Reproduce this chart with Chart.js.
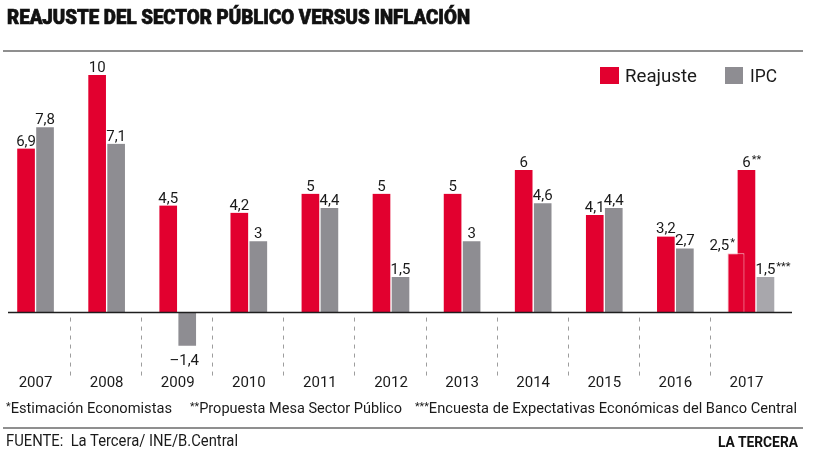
<!DOCTYPE html>
<html>
<head>
<meta charset="utf-8">
<script src="https://cdn.jsdelivr.net/npm/chart.js@4.4.1/dist/chart.umd.min.js"></script>
<style>
html,body{margin:0;padding:0;background:#fff;}
#wrap{position:relative;width:820px;height:454px;overflow:hidden;font-family:Roboto,"Liberation Sans",sans-serif;color:#1a1a1a;}
#c{position:absolute;left:0;top:0;}
.t{position:absolute;white-space:nowrap;transform-origin:0 0;}
.rule{position:absolute;left:3px;width:800px;height:2px;background:#8f8f8f;}
.box{position:absolute;width:19px;height:17px;}
.ast{font-size:11px;position:relative;top:-3px;}
</style>
</head>
<body>
<div id="wrap">
  <canvas id="c" width="820" height="454"></canvas>
  <div class="t" id="title" data-w="463" style="left:7px;top:5px;font-size:20px;line-height:24px;font-weight:900;color:#111;-webkit-text-stroke:0.7px #111;">REAJUSTE DEL SECTOR PÚBLICO VERSUS INFLACIÓN</div>
  <div class="rule" style="top:50px;"></div>
  <div class="box" style="left:600px;top:67px;background:#e2002f;"></div>
  <div class="t" data-w="72" style="left:625px;top:66px;font-size:19px;line-height:19px;">Reajuste</div>
  <div class="box" style="left:725px;top:67px;width:18px;background:#8e8d92;"></div>
  <div class="t" data-w="27" style="left:750px;top:66px;font-size:19px;line-height:19px;">IPC</div>
  <div class="t" data-w="166" style="left:6px;top:399px;font-size:15px;line-height:18px;"><span class="ast">*</span>Estimación Economistas</div>
  <div class="t" data-w="212" style="left:190px;top:399px;font-size:15px;line-height:18px;"><span class="ast">**</span>Propuesta Mesa Sector Público</div>
  <div class="t" data-w="382" style="left:415px;top:399px;font-size:15px;line-height:18px;"><span class="ast">***</span>Encuesta de Expectativas Económicas del Banco Central</div>
  <div class="rule" style="top:427px;"></div>
  <div class="t" data-w="232" style="left:6px;top:432px;font-size:16px;line-height:18px;">FUENTE:&nbsp; La Tercera/ INE/B.Central</div>
  <div class="t" data-w="80" style="left:718px;top:433px;font-size:15px;line-height:18px;font-weight:700;color:#111;">LA TERCERA</div>
</div>
<script>
// ---- data ----
const years = ['2007','2008','2009','2010','2011','2012','2013','2014','2015','2016','2017'];
const reajuste = [6.9, 10, 4.5, 4.2, 5, 5, 5, 6, 4.1, 3.2, 6];
const ipc = [7.8, 7.1, -1.4, 3, 4.4, 1.5, 3, 4.6, 4.4, 2.7, 1.5];
const reajusteEstimado = [null, null, null, null, null, null, null, null, null, null, 2.5];
const notasEstimado = ['', '', '', '', '', '', '', '', '', '', '*'];
const notasReajuste = ['', '', '', '', '', '', '', '', '', '', '**'];
const notasIpc = ['', '', '', '', '', '', '', '', '', '', '***'];

// fit html texts horizontally to the reference widths
document.querySelectorAll('[data-w]').forEach(el => {
  const w = el.getBoundingClientRect().width;
  const target = +el.dataset.w;
  if (w > 0) el.style.transform = 'scaleX(' + (target / w).toFixed(4) + ')';
});

const RED = '#e2002f', GRAY = '#8e8d92', GRAY_LIGHT = '#a8a7ac';

function fmt(v) {
  const s = String(Math.abs(v)).replace('.', ',');
  return v < 0 ? '–' + s : s;
}

const overlay = {
  id: 'overlay',
  afterDatasetsDraw(chart) {
    const { ctx, scales: { x, y } } = chart;
    const y0 = y.getPixelForValue(0);
    ctx.save();
    // dashed separators
    ctx.strokeStyle = '#9d9d9d';
    ctx.lineWidth = 1;
    ctx.setLineDash([4, 5]);
    for (let i = 0; i < years.length - 1; i++) {
      const xm = Math.round((x.getPixelForValue(i) + x.getPixelForValue(i + 1)) / 2) - 0.5;
      ctx.beginPath();
      ctx.moveTo(xm, y0 + 5);
      ctx.lineTo(xm, y0 + 63);
      ctx.stroke();
    }
    ctx.setLineDash([]);
    // baseline
    ctx.strokeStyle = '#1e1e1e';
    ctx.lineWidth = 1.6;
    ctx.beginPath();
    ctx.moveTo(8, y0);
    ctx.lineTo(792, y0);
    ctx.stroke();
    // value labels
    ctx.fillStyle = '#1a1a1a';
    ctx.textBaseline = 'alphabetic';
    ctx.textAlign = 'left';
    chart.data.datasets.forEach((ds, di) => {
      const meta = chart.getDatasetMeta(di);
      meta.data.forEach((bar, i) => {
        const v = ds.data[i];
        if (v === null || v === undefined) return;
        const txt = fmt(v);
        const note = (ds.notes && ds.notes[i]) || '';
        ctx.font = '15px Roboto';
        const w = ctx.measureText(txt).width;
        ctx.font = '11px Roboto';
        const nw = note ? ctx.measureText(note).width + 1 : 0;
        let left;
        if (ds.labelSide === 'left') left = bar.x - 1 - (w + nw);
        else if (v < 0) left = bar.x - w / 2 - 3;
        else left = bar.x - w / 2;
        const base = v >= 0 ? bar.y - 3 : bar.y + 19;
        ctx.font = '15px Roboto';
        ctx.fillText(txt, left, base);
        if (note) {
          ctx.font = '11px Roboto';
          ctx.fillText(note, left + w + 1, base - 4);
        }
      });
    });
    ctx.restore();
  }
};

new Chart(document.getElementById('c'), {
  type: 'bar',
  data: {
    labels: years,
    datasets: [
      {
        label: 'Reajuste (estimación)',
        data: reajusteEstimado,
        notes: notasEstimado,
        labelSide: 'left',
        backgroundColor: RED,
        borderColor: '#f6c3cd',
        borderWidth: { left: 1, right: 1, top: 1, bottom: 0 },
        borderSkipped: false,
        categoryPercentage: 0.443,
        barPercentage: 1.62,
        skipNull: true
      },
      {
        label: 'Reajuste',
        data: reajuste,
        notes: notasReajuste,
        backgroundColor: RED,
        borderColor: '#ffffff',
        borderWidth: { left: 1, right: 1, top: 0, bottom: 0 },
        borderSkipped: false,
        barThickness: 19,
        skipNull: true
      },
      {
        label: 'IPC',
        data: ipc,
        notes: notasIpc,
        backgroundColor: ctx => (ctx.dataIndex === years.length - 1 ? GRAY_LIGHT : GRAY),
        borderColor: '#ffffff',
        borderWidth: { left: 1, right: 1, top: 0, bottom: 0 },
        borderSkipped: false,
        barThickness: 19,
        skipNull: true
      }
    ]
  },
  options: {
    responsive: false,
    animation: false,
    devicePixelRatio: 1,
    layout: { padding: { top: 63, left: 0, right: 38, bottom: 57 } },
    plugins: { legend: { display: false }, tooltip: { enabled: false } },
    scales: {
      x: {
        grid: { display: false, drawTicks: false },
        border: { display: false },
        ticks: {
          font: { family: 'Roboto', size: 15 },
          color: '#1a1a1a',
          padding: 5,
          maxRotation: 0,
          autoSkip: false
        }
      },
      y: {
        display: false,
        min: -2.375,
        max: 10.5
      }
    }
  },
  plugins: [overlay]
});
</script>
</body>
</html>
